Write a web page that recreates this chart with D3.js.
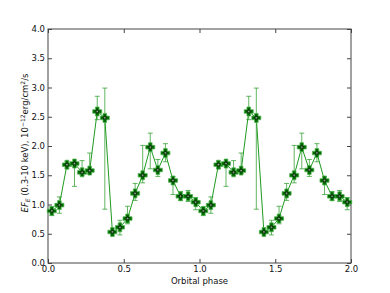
<!DOCTYPE html>
<html>
<head>
<meta charset="utf-8">
<script src="https://cdn.jsdelivr.net/npm/d3@7"></script>
<style>
  body { margin: 0; background: #fff; }
  svg { display: block; font-family: 'DejaVu Sans', sans-serif; }
</style>
</head>
<body>
<svg id="chart" width="390" height="293"></svg>
<script>
// one orbital cycle, 20 phase bins; the plot shows it twice
const binPhase = [0.025, 0.075, 0.125, 0.175, 0.225, 0.275, 0.325, 0.375, 0.425, 0.475,
                  0.525, 0.575, 0.625, 0.675, 0.725, 0.775, 0.825, 0.875, 0.925, 0.975];
const flux  = [0.89, 0.99, 1.68, 1.70, 1.55, 1.58, 2.59, 2.48, 0.53, 0.61,
               0.76, 1.19, 1.50, 1.98, 1.59, 1.88, 1.41, 1.14, 1.14, 1.04];
const errHi = [0.96, 1.13, 1.74, 1.73, 1.75, 1.88, 2.85, 2.99, 0.55, 0.73,
               0.97, 1.36, 2.01, 2.22, 1.77, 2.04, 1.48, 1.22, 1.24, 1.12];
const errLo = [0.81, 0.85, 1.62, 1.31, 1.50, 1.53, 2.45, 0.92, 0.51, 0.48,
               0.67, 1.07, 1.37, 1.61, 1.48, 1.73, 1.17, 1.07, 1.05, 0.91];
const xTicks = [0, 0.5, 1.0, 1.5, 2.0];
const yTicks = [0, 0.5, 1.0, 1.5, 2.0, 2.5, 3.0, 3.5, 4.0];

const cycles = [0, 1];
const data = cycles.flatMap(c => binPhase.map((p, i) => ({
  x: p + c, y: flux[i], lo: errLo[i], hi: errHi[i]
})));

const margin = { top: 29, right: 39, bottom: 30, left: 48 };
const width = 390, height = 293;
const svg = d3.select('#chart');

const x = d3.scaleLinear().domain([0, 2]).range([margin.left, width - margin.right]);
const y = d3.scaleLinear().domain([0, 4]).range([height - margin.bottom, margin.top]);

const axisColor = '#444';
const tickLen = 4;

// ticks point inward on all four sides
const xAxisB = svg.append('g').attr('transform', `translate(0,${y(0)})`)
  .call(d3.axisBottom(x).tickValues(xTicks).tickFormat(d3.format('.1f')).tickSizeInner(-tickLen).tickSizeOuter(0).tickPadding(3));
const xAxisT = svg.append('g').attr('transform', `translate(0,${y(4)})`)
  .call(d3.axisTop(x).tickValues(xTicks).tickFormat('').tickSizeInner(-tickLen).tickSizeOuter(0));
const yAxisL = svg.append('g').attr('transform', `translate(${x(0)},0)`)
  .call(d3.axisLeft(y).tickValues(yTicks).tickFormat(d3.format('.1f')).tickSizeInner(-tickLen).tickSizeOuter(0).tickPadding(3));
const yAxisR = svg.append('g').attr('transform', `translate(${x(2)},0)`)
  .call(d3.axisRight(y).tickValues(yTicks).tickFormat('').tickSizeInner(-tickLen).tickSizeOuter(0));

[xAxisB, xAxisT, yAxisL, yAxisR].forEach(g => {
  g.select('.domain').remove();
  g.selectAll('line').attr('stroke', axisColor);
  g.selectAll('text').attr('font-size', 8.5).attr('fill', '#111').attr('font-family', 'DejaVu Sans');
});

svg.append('rect')
  .attr('x', x(0)).attr('y', y(4))
  .attr('width', x(2) - x(0)).attr('height', y(0) - y(4))
  .attr('fill', 'none').attr('stroke', axisColor).attr('stroke-width', 1);

// connecting line
svg.append('path')
  .datum(data)
  .attr('d', d3.line().x(d => x(d.x)).y(d => y(d.y)))
  .attr('fill', 'none').attr('stroke', '#1f9a1f').attr('stroke-width', 1);

// error bars
const eb = svg.append('g').attr('stroke', '#2e9e2e').attr('stroke-opacity', 0.75).attr('stroke-width', 1);
eb.selectAll('line.v').data(data).join('line').attr('class', 'v')
  .attr('x1', d => x(d.x)).attr('x2', d => x(d.x))
  .attr('y1', d => y(d.lo)).attr('y2', d => y(d.hi));
eb.selectAll('line.ct').data(data).join('line').attr('class', 'ct')
  .attr('x1', d => x(d.x) - 2.5).attr('x2', d => x(d.x) + 2.5)
  .attr('y1', d => y(d.hi)).attr('y2', d => y(d.hi));
eb.selectAll('line.cb').data(data).join('line').attr('class', 'cb')
  .attr('x1', d => x(d.x) - 2.5).attr('x2', d => x(d.x) + 2.5)
  .attr('y1', d => y(d.lo)).attr('y2', d => y(d.lo));

// filled plus markers with a small star inside
const plus = 'M-1.8,-4.5H1.8V-1.8H4.5V1.8H1.8V4.5H-1.8V1.8H-4.5V-1.8H-1.8Z';
const mk = svg.append('g');
mk.selectAll('path.p').data(data).join('path').attr('class', 'p')
  .attr('transform', d => `translate(${x(d.x)},${y(d.y)})`)
  .attr('d', plus)
  .attr('fill', '#006400').attr('stroke', '#4fb84f').attr('stroke-width', 0.8);
mk.selectAll('path.s').data(data).join('path').attr('class', 's')
  .attr('transform', d => `translate(${x(d.x)},${y(d.y)})`)
  .attr('d', d3.symbol(d3.symbolStar, 5))
  .attr('fill', '#9ccf9c').attr('stroke', '#000').attr('stroke-width', 0.5);

// axis labels
svg.append('text')
  .attr('x', (x(0) + x(2)) / 2).attr('y', 284)
  .attr('text-anchor', 'middle').attr('font-size', 8.5).attr('fill', '#111')
  .text('Orbital phase');

const yl = svg.append('text')
  .attr('transform', `translate(28,${(y(0) + y(4)) / 2 - 3}) rotate(-90)`)
  .attr('text-anchor', 'middle').attr('font-size', 8.5).attr('fill', '#111');
yl.append('tspan').attr('font-style', 'italic').text('EF');
yl.append('tspan').attr('font-style', 'italic').attr('font-size', 6).attr('dy', 2).text('E');
yl.append('tspan').attr('dy', -2).text(' (0.3-10 keV), 10');
yl.append('tspan').attr('font-size', 6).attr('dy', -3.5).text('−12');
yl.append('tspan').attr('dy', 3.5).text('erg/cm');
yl.append('tspan').attr('font-size', 6).attr('dy', -3.5).text('2');
yl.append('tspan').attr('dy', 3.5).text('/s');
</script>
</body>
</html>
